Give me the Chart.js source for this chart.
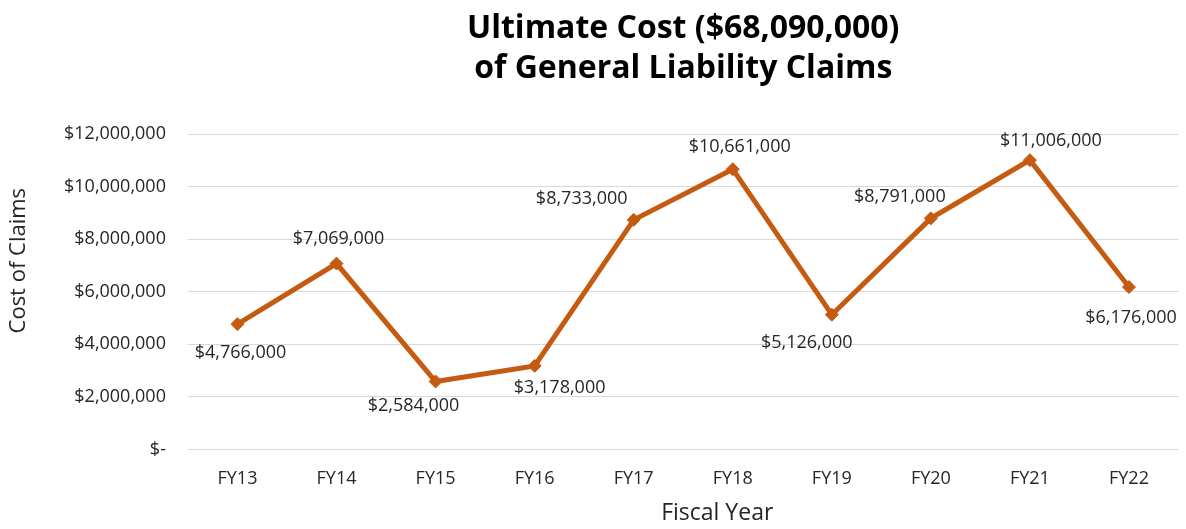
<!DOCTYPE html>
<html>
<head>
<meta charset="utf-8">
<script src="https://cdn.jsdelivr.net/npm/chart.js@4/dist/chart.umd.min.js"></script>
<style>
  html, body { margin: 0; padding: 0; background: #fff; }
  #wrap { width: 1186px; height: 529px; }
</style>
</head>
<body>
<div id="wrap"><canvas id="chart" width="1186" height="529"></canvas></div>
<script>
// values
const fiscalYears = ['FY13', 'FY14', 'FY15', 'FY16', 'FY17', 'FY18', 'FY19', 'FY20', 'FY21', 'FY22'];
const claimCosts  = [4766000, 7069000, 2584000, 3178000, 8733000, 10661000, 5126000, 8791000, 11006000, 6176000];
const yTicks      = [0, 2000000, 4000000, 6000000, 8000000, 10000000, 12000000];

const titleLines = ['Ultimate Cost ($68,090,000)', 'of General Liability Claims'];
const yTitle = 'Cost of Claims';
const xTitle = 'Fiscal Year';

const lineClr = '#C55A11';
const textClr = '#262626';
const gridClr = '#d9d9d9';
const fontFam = '"Open Sans", "Noto Sans", sans-serif';

// where each value label sits relative to its point (px)
const labelShift = [[3, 29], [2, -25], [-22, 24], [25, 22], [-52, -21], [7, -22], [-25, 28], [-31, -21], [21, -19], [2, 31]];

const fmtMoney = v => v === 0 ? '$-' : '$' + v.toLocaleString('en-US');

const valueLabels = {
  id: 'valueLabels',
  afterDatasetsDraw(chart) {
    const ctx = chart.ctx;
    const meta = chart.getDatasetMeta(0);
    ctx.save();
    ctx.font = '18px ' + fontFam;
    ctx.fillStyle = textClr;
    ctx.textAlign = 'center';
    ctx.textBaseline = 'middle';
    meta.data.forEach((pt, i) => {
      const [dx, dy] = labelShift[i];
      ctx.fillText(fmtMoney(claimCosts[i]), pt.x + dx, pt.y + dy);
    });
    ctx.restore();
  }
};

// chart title and both axis titles sit a bit off the plot centre, like the original
const plotTexts = {
  id: 'plotTexts',
  afterDraw(chart) {
    const ctx = chart.ctx;
    const a = chart.chartArea;
    const cx = (a.left + a.right) / 2;
    const cy = (a.top + a.bottom) / 2;
    ctx.save();
    ctx.textAlign = 'center';
    ctx.textBaseline = 'middle';
    ctx.fillStyle = '#000';
    ctx.font = 'bold 32px ' + fontFam;
    ctx.fillText(titleLines[0], cx, 29);
    ctx.fillText(titleLines[1], cx, 69);
    ctx.fillStyle = textClr;
    ctx.font = '23px ' + fontFam;
    ctx.fillText(xTitle, cx + 34, 513);
    ctx.translate(19, cy - 31);
    ctx.rotate(-Math.PI / 2);
    ctx.font = '22px ' + fontFam;
    ctx.fillText(yTitle, 0, 0);
    ctx.restore();
  }
};

new Chart(document.getElementById('chart'), {
  type: 'line',
  data: {
    labels: fiscalYears,
    datasets: [{
      data: claimCosts,
      borderColor: lineClr,
      backgroundColor: lineClr,
      borderWidth: 5,
      pointStyle: 'rectRot',
      pointRadius: 6.5,
      pointBorderWidth: 1,
      tension: 0,
      fill: false,
    }],
  },
  options: {
    responsive: false,
    animation: false,
    layout: { padding: { left: 42, right: 6, top: 134, bottom: 28 } },
    plugins: {
      legend: { display: false },
      tooltip: { enabled: false },
      title: { display: false },
    },
    scales: {
      x: {
        offset: true,
        grid: { display: false },
        border: { display: false },
        ticks: { color: textClr, font: { family: fontFam, size: 18 }, padding: 11 },
      },
      y: {
        min: 0,
        max: 12000000,
        afterBuildTicks: axis => { axis.ticks = yTicks.map(v => ({ value: v })); },
        grid: { color: gridClr, lineWidth: 1, drawTicks: false },
        border: { display: false },
        ticks: {
          color: textClr,
          font: { family: fontFam, size: 18 },
          padding: 22,
          callback: v => fmtMoney(v),
        },
      },
    },
  },
  plugins: [valueLabels, plotTexts],
});
</script>
</body>
</html>
